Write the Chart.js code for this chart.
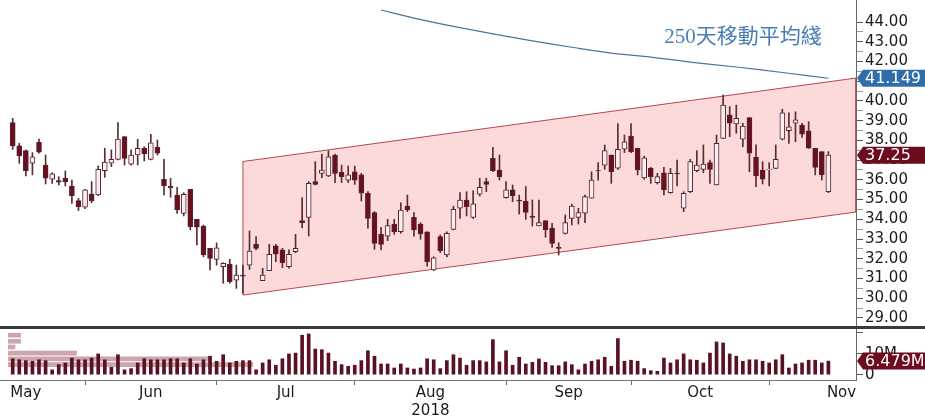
<!DOCTYPE html>
<html>
<head>
<meta charset="utf-8">
<script src="https://cdn.jsdelivr.net/npm/chart.js@4.4.1/dist/chart.umd.min.js"></script>
<style>
html, body { margin: 0; padding: 0; background: #fff; }
#wrap { width: 925px; height: 417px; overflow: hidden; }
#sep { width: 925px; height: 3px; background: #3a3a3a; }
canvas { display: block; }
</style>
</head>
<body>
<div id="wrap">
  <canvas id="price" width="925" height="326"></canvas>
  <div id="sep"></div>
  <canvas id="vol" width="925" height="88"></canvas>
</div>
<script>
// one entry per trading day, day 1 = mid May 2018
const opens = [38.90,37.72,37.48,36.84,37.90,36.75,36.03,35.96,36.08,35.69,
  34.95,34.61,35.28,35.23,36.46,36.84,37.04,38.19,36.79,37.26,
  37.60,37.04,37.65,36.03,35.69,35.23,34.30,35.52,34.00,33.66,
  32.53,31.97,31.60,31.72,30.92,31.16,31.68,32.73,30.89,31.40,
  32.65,32.45,31.60,32.36,33.93,34.10,35.91,36.33,36.20,37.26,
  36.38,35.99,36.41,36.25,35.32,34.34,33.24,33.15,33.75,33.37,
  34.67,34.10,33.76,33.37,31.43,33.12,32.19,33.49,34.56,34.98,
  34.10,35.28,35.91,37.09,36.50,35.10,35.49,34.98,34.93,34.15,
  33.66,33.93,33.55,32.58,33.29,34.05,34.10,34.31,35.07,36.47,
  36.75,37.26,36.59,37.55,38.22,37.60,36.10,36.58,35.86,36.36,
  35.35,36.33,34.56,35.40,36.46,36.53,36.87,35.74,38.10,39.29,
  38.83,38.06,39.15,37.14,36.50,36.51,36.58,38.06,38.49,38.87,
  38.78,38.49,37.60,37.43,35.40];
const highs = [39.12,37.85,37.52,37.38,38.06,37.26,36.36,36.16,36.45,35.99,
  35.06,35.52,35.91,36.70,37.60,37.52,38.90,38.19,37.52,38.06,
  37.68,38.31,38.02,37.04,36.08,35.62,35.35,35.52,34.00,33.71,
  32.53,32.81,31.80,31.97,31.68,31.68,33.41,33.12,31.52,32.73,
  32.73,32.53,32.45,33.24,35.10,35.91,36.92,37.31,37.48,37.31,
  36.75,36.70,36.70,36.33,35.40,34.39,33.59,34.00,34.00,34.84,
  35.23,34.34,33.83,33.37,32.10,33.21,33.37,34.67,35.35,35.40,
  35.44,36.08,36.08,37.65,37.26,35.91,35.74,35.23,35.66,34.98,
  34.98,33.93,33.80,32.81,34.22,34.77,34.56,35.23,36.41,36.87,
  37.77,37.26,38.85,38.27,38.85,37.60,37.20,36.64,36.33,36.64,
  36.58,37.00,35.40,37.04,37.48,37.77,37.00,38.27,40.30,39.71,
  39.79,38.87,39.15,37.77,36.92,36.87,37.77,39.58,39.40,39.45,
  38.87,38.95,37.60,37.43,37.43];
const lows = [37.55,36.84,36.20,36.25,37.35,35.79,35.82,35.74,35.69,34.81,
  34.44,34.54,34.84,35.20,36.13,36.67,37.01,36.75,36.75,36.75,
  36.96,37.01,37.26,35.23,35.12,34.30,34.17,33.46,32.70,32.10,
  31.43,31.68,30.76,30.76,30.50,30.25,31.46,32.45,30.89,31.40,
  31.85,31.55,31.52,32.31,33.57,33.15,35.74,36.11,36.16,35.86,
  35.86,35.86,35.77,34.93,33.55,32.48,32.45,32.92,33.24,33.29,
  34.39,33.15,32.99,31.63,31.40,32.31,32.10,33.46,34.05,34.17,
  34.05,35.18,35.40,36.41,35.99,35.07,34.89,34.27,34.00,33.66,
  33.66,33.09,32.58,32.19,33.25,33.71,33.76,33.83,35.07,35.99,
  36.53,35.82,36.53,37.38,37.38,36.25,36.03,35.82,35.79,35.23,
  35.32,35.69,34.39,35.35,36.41,36.36,35.82,35.74,38.10,38.19,
  38.36,37.68,36.41,35.65,35.79,35.69,36.58,38.02,37.85,37.93,
  38.15,37.60,36.25,35.99,35.35];
const closes = [37.72,37.21,36.45,37.17,37.40,36.08,36.30,35.88,35.91,35.20,
  34.64,35.49,34.94,36.53,36.90,37.04,38.06,37.09,37.26,37.60,
  37.31,37.88,37.35,35.69,35.60,34.47,35.27,33.63,33.60,32.19,
  32.02,32.56,31.77,30.84,31.18,31.12,32.39,32.53,31.18,32.23,
  32.23,31.80,32.23,32.53,33.83,35.82,35.77,36.50,37.17,36.33,
  36.16,36.25,35.99,35.32,34.05,32.78,32.73,33.68,33.37,34.47,
  34.47,33.46,33.26,31.85,32.05,32.41,33.29,34.51,34.98,34.64,
  34.78,35.62,35.77,36.47,36.16,35.49,35.20,34.92,34.35,34.10,
  33.83,33.46,32.78,32.53,33.83,34.67,34.34,35.15,35.99,36.45,
  37.48,36.41,37.55,37.93,37.43,36.50,37.11,36.16,36.16,35.49,
  36.33,36.30,35.32,36.92,36.75,36.80,36.53,37.85,39.79,38.87,
  39.12,38.73,37.35,36.20,36.03,36.53,37.04,39.40,38.69,39.04,
  38.32,37.60,36.63,36.25,37.25];
// volume, millions of shares
const volumes = [7.6,7.1,6.7,6.4,7.1,6.7,2.3,4.8,5.6,7.9,
  7.1,7.1,7.9,9.9,7.1,3.5,9.5,2.3,2.9,5.6,
  7.6,7.1,7.1,7.1,7.6,7.6,5.6,7.6,5.1,7.1,
  8.8,6.4,9.5,5.6,6.4,6.7,6.7,2.3,5.6,7.1,
  4.5,7.6,9.9,10.3,18.8,19.4,12.2,11.9,10.3,6.4,
  4.8,4.0,4.5,6.7,11.4,8.8,5.1,5.1,3.2,5.1,
  3.2,2.7,3.2,7.6,7.1,2.9,6.7,9.5,7.9,4.5,
  6.7,6.7,6.1,16.7,6.1,11.4,4.5,8.3,5.1,5.9,
  7.5,5.9,4.3,4.3,6.1,4.8,2.3,5.1,6.4,7.1,
  8.3,4.0,17.2,6.4,6.9,6.4,2.9,1.9,1.6,7.9,
  5.6,7.1,9.9,7.1,6.9,5.6,10.3,15.6,15.1,9.9,
  8.8,6.4,7.1,7.1,6.4,5.6,7.1,9.5,3.2,5.1,
  5.6,6.9,6.9,5.6,6.479];
// 250-day moving average, read at a few days
const maDays   = [57, 62, 68, 74, 80, 86, 92, 98, 104, 111, 118, 125];
const maValues = [44.61, 44.20, 43.78, 43.40, 43.04, 42.72, 42.42, 42.22, 41.97, 41.72, 41.44, 41.149];
const maLabel = '250天移動平均綫';
// trend channel
const channelDays  = [36, 129.2];
const channelUpper = [36.93, 41.16];
const channelLower = [30.16, 34.37];
// volume-at-price bars in the lower panel
const profileLevels = [18.8, 15.9, 13.2, 10.3, 7.5, 4.8];
const profileEnds   = [2.2, 2.2, 1.35, 10.7, 31, 37.5];
const profileStart  = 0.33;
// axes
const priceTicks = [29,30,31,32,33,34,35,36,37,38,39,40,41,42,43,44];
const volTicks = [0, 10, 20];
const volTickLabels = ['0', '10M', ''];
const monthNames  = ['May','Jun','Jul','Aug','Sep','Oct','Nov'];
const monthBounds = [-6, 12, 32, 53, 76, 95, 116, 138];
const yearLabel = '2018';
const yearMonth = 'Aug';

const xMin = -0.93, xMax = 129.2;
const FONT = 'DejaVu Sans';
Chart.defaults.font.family = FONT;
Chart.defaults.color = '#1b1b1b';

const days = opens.map((_, k) => k + 1);
const upFill = '#fbeef0', downFill = '#6b0e1f', edge = '#56232c';

// fixed axis sizes so both panels share the same plot width
function fitRight(s) { s.width = 69; s.paddingTop = 0; s.paddingBottom = 0; }
function fitBottom(s) { s.height = 37; s.paddingLeft = 0; s.paddingRight = 0; }

const tagPlugin = {
  id: 'tags',
  afterDraw(chart, args, opts) {
    const ctx = chart.ctx, s = chart.scales.y;
    opts.items.forEach(t => {
      const y = s.getPixelForValue(t.value);
      const x0 = s.left + 1, h = 17;
      ctx.save();
      ctx.fillStyle = t.color;
      ctx.beginPath();
      ctx.moveTo(x0, y);
      ctx.lineTo(x0 + 6, y - h / 2);
      ctx.lineTo(chart.width, y - h / 2);
      ctx.lineTo(chart.width, y + h / 2);
      ctx.lineTo(x0 + 6, y + h / 2);
      ctx.closePath();
      ctx.fill();
      ctx.fillStyle = '#fff';
      ctx.font = '16px "' + FONT + '"';
      ctx.textBaseline = 'middle';
      ctx.textAlign = 'left';
      ctx.fillText(t.text, x0 + 8, y + 1);
      ctx.restore();
    });
    if (opts.note) {
      const n = opts.note;
      ctx.save();
      ctx.fillStyle = '#4a7db5';
      ctx.font = '21px "Liberation Serif", "Noto Sans CJK TC"';
      ctx.textAlign = 'right';
      ctx.textBaseline = 'middle';
      ctx.fillText(n.text, chart.scales.x.getPixelForValue(n.x), s.getPixelForValue(n.y));
      ctx.restore();
    }
  }
};

new Chart(document.getElementById('price'), {
  type: 'bar',
  data: {
    datasets: [
      {
        type: 'line', label: maLabel,
        data: maDays.map((d, k) => ({x: d, y: maValues[k]})),
        borderColor: '#4f7299', borderWidth: 1.2, pointRadius: 0, tension: 0.3, order: 0
      },
      {
        label: 'body',
        data: days.map((d, k) => ({x: d, y: [opens[k], closes[k]]})),
        backgroundColor: closes.map((c, k) => c >= opens[k] ? upFill : downFill),
        borderColor: edge, borderWidth: 1, borderSkipped: false,
        barThickness: 5, grouped: false, order: 1
      },
      {
        label: 'wick',
        data: days.map((d, k) => ({x: d, y: [lows[k], highs[k]]})),
        backgroundColor: '#5a2c33', barThickness: 1, grouped: false, order: 2
      },
      {
        type: 'line', label: 'channel',
        data: [
          {x: channelDays[0], y: channelUpper[0]},
          {x: channelDays[1], y: channelUpper[1]},
          {x: channelDays[1], y: channelLower[1]},
          {x: channelDays[0], y: channelLower[0]},
          {x: channelDays[0], y: channelUpper[0]}
        ],
        borderColor: '#b4474f', borderWidth: 1, backgroundColor: 'rgba(252, 212, 212, 0.85)',
        fill: 'shape', pointRadius: 0, order: 3
      }
    ]
  },
  options: {
    responsive: false, animation: false, devicePixelRatio: 1,
    layout: {padding: 0},
    plugins: {
      legend: {display: false}, tooltip: {enabled: false},
      tags: {
        items: [
          {value: maValues[maValues.length - 1], text: maValues[maValues.length - 1].toFixed(3), color: '#2f6ea8'},
          {value: closes[closes.length - 1], text: closes[closes.length - 1].toFixed(2), color: '#6d0c1e'}
        ],
        note: {text: maLabel, x: 124, y: 43.19}
      }
    },
    scales: {
      x: {type: 'linear', min: xMin, max: xMax, display: false, offset: false},
      y: {
        position: 'right', min: 28.593, max: 45.115, offset: false,
        afterFit: fitRight,
        afterBuildTicks: s => {
          const t = [];
          priceTicks.forEach(v => { t.push({value: v}); if (v < 44) t.push({value: v + 0.5}); });
          s.ticks = t;
        },
        ticks: {
          autoSkip: false, padding: 2, font: {size: 15}, color: '#1b1b1b',
          callback: v => Number.isInteger(v) ? v.toFixed(2) : ''
        },
        grid: {
          drawOnChartArea: false, tickLength: 7, offset: false,
          tickColor: c => (c.tick && Number.isInteger(c.tick.value)) ? '#555' : '#999'
        },
        border: {color: '#666'}
      }
    }
  },
  plugins: [tagPlugin]
});

const monthTicks = monthBounds.slice(1, -1).map(v => ({value: v}));
const monthMids = monthNames.map((m, k) => ({value: (monthBounds[k] + monthBounds[k + 1]) / 2, name: m}));

new Chart(document.getElementById('vol'), {
  type: 'bar',
  data: {
    datasets: [
      {
        label: 'Volume',
        data: days.map((d, k) => ({x: d, y: volumes[k]})),
        backgroundColor: '#5a1122', barThickness: 3, grouped: false, order: 1
      },
      {
        label: 'profile', indexAxis: 'y',
        data: profileLevels.map((lv, k) => ({y: lv, x: [profileStart, profileEnds[k]]})),
        backgroundColor: 'rgba(168, 100, 114, 0.58)', barThickness: 4, grouped: false, order: 2
      }
    ]
  },
  options: {
    responsive: false, animation: false, devicePixelRatio: 1,
    layout: {padding: 0},
    plugins: {
      legend: {display: false}, tooltip: {enabled: false},
      tags: {items: [{value: volumes[volumes.length - 1], text: volumes[volumes.length - 1].toFixed(3) + 'M', color: '#6d0c1e'}]}
    },
    scales: {
      x: {
        type: 'linear', min: xMin, max: xMax, offset: false, position: 'bottom',
        afterFit: fitBottom,
        afterBuildTicks: s => {
          s.ticks = monthTicks.map(t => ({value: t.value}))
            .concat(monthMids.map(t => ({value: t.value})))
            .sort((a, b) => a.value - b.value);
        },
        ticks: {
          autoSkip: false, maxRotation: 0, padding: -1, font: {size: 15, lineHeight: 1.2}, color: '#1b1b1b',
          callback: v => {
            const m = monthMids.find(t => Math.abs(t.value - v) < 1e-6);
            if (!m) return '';
            return m.name === yearMonth ? [m.name, yearLabel] : m.name;
          }
        },
        grid: {
          drawOnChartArea: false, offset: false, tickLength: 5,
          tickColor: c => (c.tick && monthTicks.some(t => Math.abs(t.value - c.tick.value) < 1e-6)) ? '#666' : 'rgba(0,0,0,0)'
        },
        border: {color: '#777'}
      },
      y: {
        position: 'right', min: -2.524, max: 21.76, offset: false,
        afterFit: fitRight,
        afterBuildTicks: s => { s.ticks = volTicks.map(v => ({value: v})); },
        ticks: {
          autoSkip: false, padding: 2, font: {size: 15}, color: '#1b1b1b',
          callback: v => volTickLabels[volTicks.indexOf(v)] || ''
        },
        grid: {drawOnChartArea: false, offset: false, tickLength: 7, color: '#555'},
        border: {color: '#666'}
      }
    }
  },
  plugins: [tagPlugin]
});
</script>
</body>
</html>
